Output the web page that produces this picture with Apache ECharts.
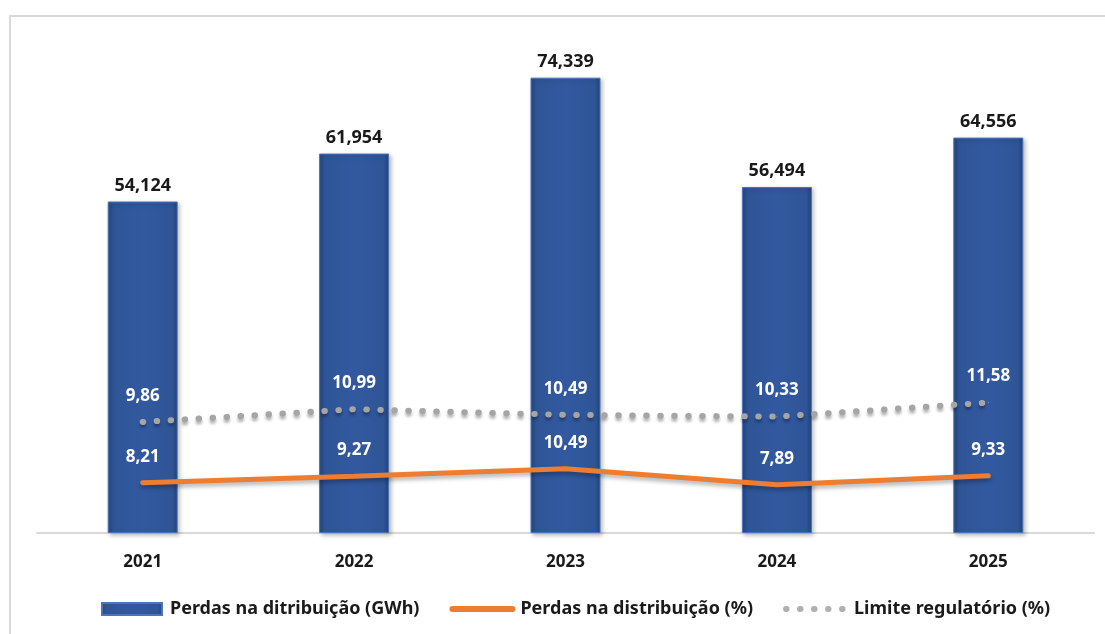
<!DOCTYPE html>
<html><head><meta charset="utf-8">
<script src="https://cdn.jsdelivr.net/npm/echarts@6/dist/echarts.min.js"></script>
<style>html,body{margin:0;padding:0;background:#fff}#c{width:1105px;height:634px}</style>
</head><body><div id="c"></div>
<script>
const categories = ['2021', '2022', '2023', '2024', '2025'];
const perdasGWh = [54.124, 61.954, 74.339, 56.494, 64.556];
const perdasPct = [8.21, 9.27, 10.49, 7.89, 9.33];
const limitePct = [9.86, 10.99, 10.49, 10.33, 11.58];
const seriesNames = ['Perdas na ditribuição (GWh)', 'Perdas na distribuição (%)', 'Limite regulatório (%)'];

const fmt3 = v => v.toFixed(3).replace('.', ',');
const fmt2 = v => v.toFixed(2).replace('.', ',');
const FONT = '"Noto Sans", "Open Sans", sans-serif';
const DOTS = [0.5, 13.5];

const chart = echarts.init(document.getElementById('c'), null, {renderer: 'canvas'});
chart.setOption({
  backgroundColor: '#ffffff',
  animation: false,
  graphic: [{
    type: 'rect', shape: {x: 10, y: 16, width: 1200, height: 700},
    style: {fill: 'none', stroke: '#d9d9d9', lineWidth: 2}, silent: true, z: -10
  }],
  grid: {left: 37, right: 11, top: 43, bottom: 101, containLabel: false},
  legend: {
    bottom: 11, left: 96, itemGap: 30, itemWidth: 60, itemHeight: 12,
    textStyle: {fontFamily: FONT, fontWeight: 'bold', fontSize: 18, color: '#1a1a1a', padding: [0, 0, 0, 3]},
    data: [
      {name: seriesNames[0], icon: 'rect'},
      {name: seriesNames[1], itemStyle: {opacity: 0},
        lineStyle: {width: 6, color: '#ed7d31', cap: 'round'}},
      {name: seriesNames[2], itemStyle: {opacity: 0},
        lineStyle: {width: 6, color: '#b0b0b0', type: DOTS, cap: 'round'}}
    ]
  },
  xAxis: {
    type: 'category', data: categories,
    axisLine: {lineStyle: {color: '#d9d9d9', width: 2}},
    axisTick: {show: false},
    axisLabel: {fontFamily: FONT, fontWeight: 'bold', fontSize: 17, color: '#1a1a1a', margin: 21}
  },
  yAxis: [
    {type: 'value', min: 0, max: 80, show: false, splitLine: {show: false}},
    {type: 'value', min: 0, max: 43.5, show: false, splitLine: {show: false}}
  ],
  series: [
    {
      name: seriesNames[0], type: 'bar', data: perdasGWh, barWidth: 70, yAxisIndex: 0,
      itemStyle: {
        color: new echarts.graphic.LinearGradient(0, 0, 1, 0, [
          {offset: 0, color: '#24477f'},
          {offset: 0.08, color: '#2f5597'},
          {offset: 0.5, color: '#3259a0'},
          {offset: 0.92, color: '#2f5597'},
          {offset: 1, color: '#22437a'}
        ]),
        borderColor: '#4a74bb', borderWidth: 1,
        shadowColor: 'rgba(0,0,0,0.25)', shadowBlur: 4, shadowOffsetX: 2, shadowOffsetY: 2
      },
      label: {
        show: true, position: 'top', distance: 7, formatter: p => fmt3(p.value),
        fontFamily: FONT, fontWeight: 'bold', fontSize: 18, color: '#1a1a1a'
      },
      z: 2
    },
    {
      name: seriesNames[1], type: 'line', data: perdasPct, yAxisIndex: 0,
      symbol: 'circle', symbolSize: 1, showSymbol: true, color: '#ed7d31',
      itemStyle: {color: '#ed7d31'},
      lineStyle: {color: '#ed7d31', width: 5, cap: 'round',
        shadowColor: 'rgba(0,0,0,0.3)', shadowBlur: 4, shadowOffsetY: 3},
      label: {
        show: true, position: 'top', distance: 17, formatter: p => fmt2(p.value),
        fontFamily: FONT, fontWeight: 'bold', fontSize: 17, color: '#ffffff'
      },
      z: 5
    },
    {
      name: seriesNames[2], type: 'line', data: limitePct, yAxisIndex: 1,
      symbol: 'circle', symbolSize: 1, showSymbol: true, color: '#a5a5a5',
      itemStyle: {color: '#a5a5a5'},
      lineStyle: {color: '#a5a5a5', width: 6, cap: 'round', type: DOTS,
        shadowColor: 'rgba(0,0,0,0.3)', shadowBlur: 3, shadowOffsetY: 3},
      label: {
        show: true, position: 'top', distance: 17, formatter: p => fmt2(p.value),
        fontFamily: FONT, fontWeight: 'bold', fontSize: 17, color: '#ffffff'
      },
      z: 4
    }
  ]
});
</script></body></html>
